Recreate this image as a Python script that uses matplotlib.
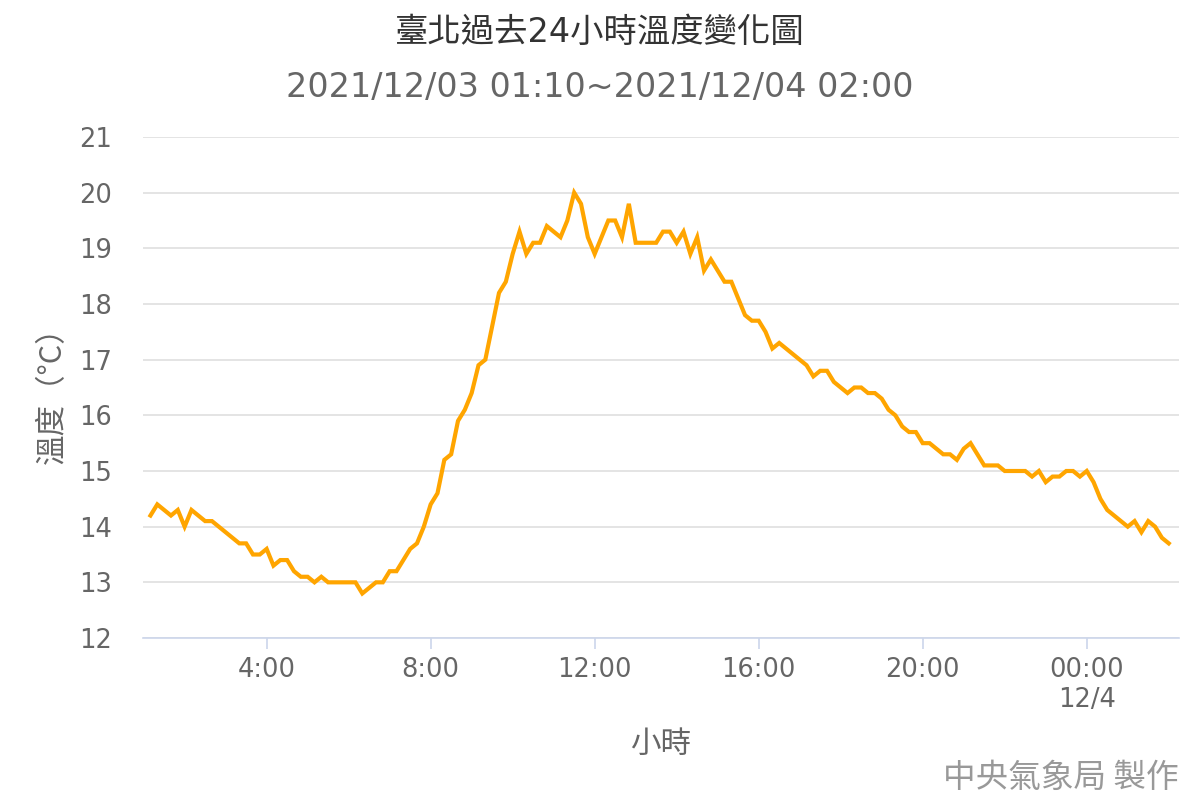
import matplotlib.pyplot as plt

plt.rcParams['font.family'] = ['DejaVu Sans', 'Noto Sans CJK TC']

# 10-minute readings, 2021/12/03 01:10 ~ 2021/12/04 02:00
start_hour = 1 + 10 / 60
step_hour = 10 / 60
temps = [
    14.2, 14.4, 14.3, 14.2, 14.3, 14.0, 14.3, 14.2, 14.1, 14.1,
    14.0, 13.9, 13.8, 13.7, 13.7, 13.5, 13.5, 13.6, 13.3, 13.4,
    13.4, 13.2, 13.1, 13.1, 13.0, 13.1, 13.0, 13.0, 13.0, 13.0,
    13.0, 12.8, 12.9, 13.0, 13.0, 13.2, 13.2, 13.4, 13.6, 13.7,
    14.0, 14.4, 14.6, 15.2, 15.3, 15.9, 16.1, 16.4, 16.9, 17.0,
    17.6, 18.2, 18.4, 18.9, 19.3, 18.9, 19.1, 19.1, 19.4, 19.3,
    19.2, 19.5, 20.0, 19.8, 19.2, 18.9, 19.2, 19.5, 19.5, 19.2,
    19.8, 19.1, 19.1, 19.1, 19.1, 19.3, 19.3, 19.1, 19.3, 18.9,
    19.2, 18.6, 18.8, 18.6, 18.4, 18.4, 18.1, 17.8, 17.7, 17.7,
    17.5, 17.2, 17.3, 17.2, 17.1, 17.0, 16.9, 16.7, 16.8, 16.8,
    16.6, 16.5, 16.4, 16.5, 16.5, 16.4, 16.4, 16.3, 16.1, 16.0,
    15.8, 15.7, 15.7, 15.5, 15.5, 15.4, 15.3, 15.3, 15.2, 15.4,
    15.5, 15.3, 15.1, 15.1, 15.1, 15.0, 15.0, 15.0, 15.0, 14.9,
    15.0, 14.8, 14.9, 14.9, 15.0, 15.0, 14.9, 15.0, 14.8, 14.5,
    14.3, 14.2, 14.1, 14.0, 14.1, 13.9, 14.1, 14.0, 13.8, 13.7,
]
hours = [start_hour + i * step_hour for i in range(len(temps))]

tick_hours = [4, 8, 12, 16, 20, 24]
tick_labels = ["4:00", "8:00", "12:00", "16:00", "20:00", "00:00\n12/4"]
y_ticks = list(range(12, 22))

fig = plt.figure(figsize=(12, 8), dpi=100)
ax = fig.add_axes([0.119, 0.2025, 0.8635, 0.62625])

ax.plot(hours, temps, color="#FFA500", linewidth=3.0, solid_joinstyle="miter")

ax.set_xlim(0.98, 26.25)
ax.set_ylim(12, 21)
ax.set_yticks(y_ticks)
ax.set_xticks(tick_hours)
ax.set_xticklabels(tick_labels, linespacing=1.2)

ax.grid(axis="y", color="#e2e2e2", linewidth=1.3)
ax.set_axisbelow(True)
for side in ["top", "right", "left"]:
    ax.spines[side].set_visible(False)
ax.spines["bottom"].set_color("#ccd6eb")
ax.spines["bottom"].set_linewidth(1.2)

ax.tick_params(axis="y", length=0, pad=22, labelsize=18.5, labelcolor="#666666")
ax.tick_params(axis="x", length=8, width=1.2, color="#ccd6eb", pad=6,
               labelsize=18.5, labelcolor="#666666")

ax.set_xlabel("小時", fontsize=22, color="#666666", labelpad=11,
              family=["Noto Sans CJK TC", "DejaVu Sans"])
ax.set_ylabel("溫度（°C）", fontsize=22, color="#666666", labelpad=8,
              family=["Noto Sans CJK TC", "DejaVu Sans"])

fig.text(0.5, 0.96, "臺北過去24小時溫度變化圖", ha="center", va="center",
         fontsize=24, color="#333333")
fig.text(0.5, 0.89, "2021/12/03 01:10~2021/12/04 02:00", ha="center",
         va="center", fontsize=24, color="#666666")
fig.text(0.982, 0.027, "中央氣象局 製作", ha="right", va="center",
         fontsize=23.5, color="#999999", family=["Noto Sans CJK TC", "DejaVu Sans"])

fig.savefig("out.png", dpi=100)
